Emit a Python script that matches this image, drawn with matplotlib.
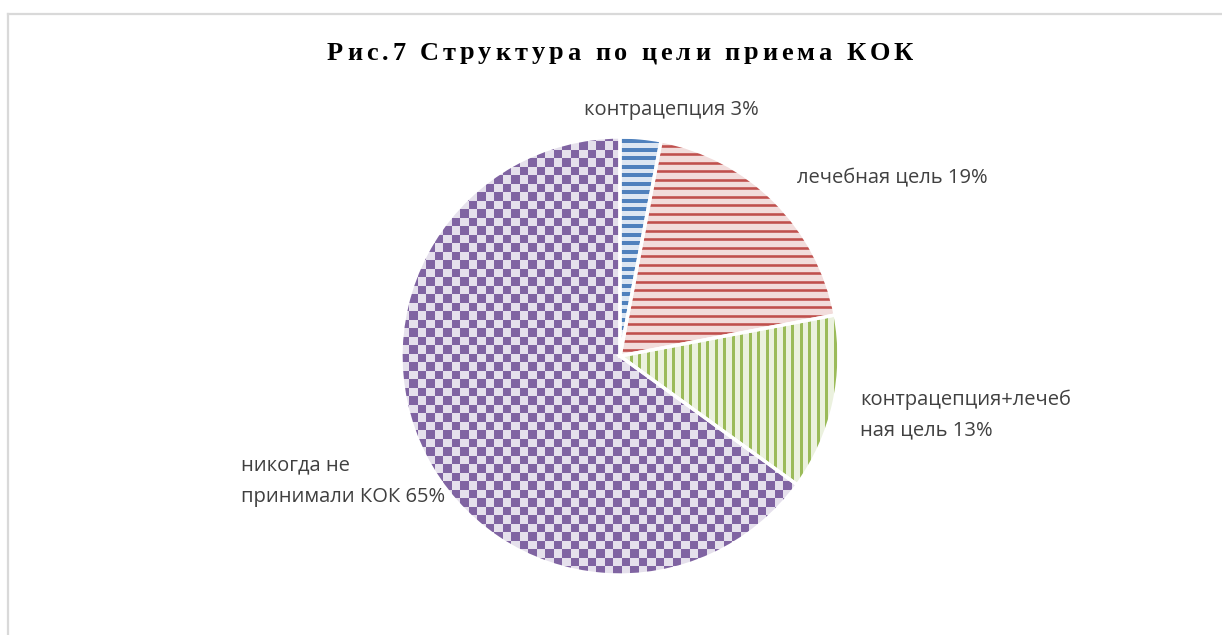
import numpy as np
import matplotlib
matplotlib.use("Agg")
import matplotlib.pyplot as plt
from matplotlib.lines import Line2D

# данные
labels = ["контрацепция 3%", "лечебная цель 19%",
          "контрацепция+лечеб\nная цель 13%", "никогда не\nпринимали КОК 65%"]
values = [3, 19, 13, 65]
dark_colors = ["#4F81BD", "#C0504D", "#9BBB59", "#8064A2"]
light_colors = ["#DCE6F2", "#F2DCDB", "#EBF1DE", "#E5E0EC"]
title = "Рис.7 Структура по цели приема КОК"

W, H = 1222, 635
fig = plt.figure(figsize=(W / 100, H / 100), dpi=100)

# рамка диаграммы
fig.add_artist(Line2D([8 / W, 8 / W], [0, 1 - 13.5 / H], color="#D9D9D9", lw=1.6))
fig.add_artist(Line2D([8 / W, 1], [1 - 13.5 / H, 1 - 13.5 / H], color="#D9D9D9", lw=1.6))

# оси круга: центр (620, 356), радиус 219 px
cx, cy, r = 620, 356, 219
ax = fig.add_axes([(cx - r) / W, (H - cy - r) / H, 2 * r / W, 2 * r / H])
ax.axis("off")

wedges, _ = ax.pie(values, colors=light_colors, startangle=90, counterclock=False,
                   radius=1, wedgeprops=dict(linewidth=0))
for w in wedges:
    w.set_zorder(1)

step = 8.5 / r  # шаг узора в единицах данных
ticks = np.arange(-1 - step, 1 + step, step)

# синий - широкие горизонтальные полосы
lc = ax.hlines(ticks, -1, 1, colors=dark_colors[0], lw=4.0 * 0.72, zorder=2)
lc.set_clip_path(wedges[0])
# красный - узкие горизонтальные полосы
lc = ax.hlines(ticks + step / 2, -1, 1, colors=dark_colors[1], lw=2.6 * 0.72, zorder=2)
lc.set_clip_path(wedges[1])
# зеленый - вертикальные полосы
lc = ax.vlines(ticks, -1, 1, colors=dark_colors[2], lw=3.0 * 0.72, zorder=2)
lc.set_clip_path(wedges[2])
# фиолетовый - шахматка
n = int(2 / step) + 2
board = (np.indices((n, n)).sum(axis=0) % 2).astype(float)
cmap = matplotlib.colors.ListedColormap([light_colors[3], dark_colors[3]])
im = ax.imshow(board, cmap=cmap, interpolation="nearest",
               extent=(-1, -1 + n * step, -1, -1 + n * step), zorder=2)
im.set_clip_path(wedges[3])

# белые границы секторов
ax.pie(values, colors=["none"] * 4, startangle=90, counterclock=False, radius=1,
       wedgeprops=dict(edgecolor="white", linewidth=2.4))
for p in ax.patches[4:]:
    p.set_zorder(3)
ax.set_xlim(-1, 1)
ax.set_ylim(-1, 1)
ax.set_aspect("equal")

# подписи
label_pos = [(584, 110), (797, 178), (860, 415), (241, 481)]
for txt, (px, py) in zip(labels, label_pos):
    fig.text(px / W, 1 - py / H, txt, ha="left", va="center", fontsize=14.5,
             family="Open Sans", color="#404040", linespacing=1.75)

# заголовок с разрядкой
renderer = fig.canvas.get_renderer()
font = dict(fontsize=19, family="Liberation Serif", weight="bold", color="#000000")
widths = []
for ch in title:
    t = fig.text(0, 0, ch if ch != " " else "\u00a0", **font)
    widths.append(t.get_window_extent(renderer).width)
    t.remove()
title_width = 586
tracking = (title_width - sum(widths)) / (len(title) - 1)
x = 620 - title_width / 2
for ch, w in zip(title, widths):
    if ch != " ":
        fig.text(x / W, 1 - 53 / H, ch, ha="left", va="center", **font)
    x += w + tracking

fig.savefig("out.png", dpi=100)
